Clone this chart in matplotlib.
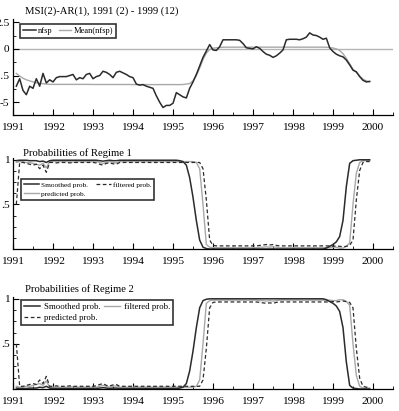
import numpy as np
import matplotlib
matplotlib.use('Agg')
from matplotlib import pyplot as plt
from matplotlib.ticker import MultipleLocator, FixedLocator, FixedFormatter

plt.rcParams['font.family'] = ['Liberation Serif', 'DejaVu Serif']
plt.rcParams['axes.unicode_minus'] = False

# monthly sample 1991(2) - 1999(12)
start_year, start_month, n_obs = 1991, 2, 107
years = [1991, 1992, 1993, 1994, 1995, 1996, 1997, 1998, 1999, 2000]
year_labels = ['1991', '1992', '1993', '1994', '1995', '1996', '1997', '1998', '1999', '2000']

nfsp = [
    -3.5, -2.8, -3.9, -4.3, -3.5, -3.7, -2.8, -3.5, -2.3, -3.2, -2.9,
    -3.1, -2.7, -2.6, -2.6, -2.6, -2.5, -2.4, -2.9, -2.7, -2.8, -2.4, -2.3,
    -2.8, -2.6, -2.5, -2.1, -2.2, -2.4, -2.7, -2.2, -2.1, -2.25, -2.4, -2.6,
    -2.7, -3.3, -3.4, -3.35, -3.5, -3.6, -3.7, -4.4, -5.0, -5.5, -5.3, -5.3,
    -5.1, -4.1, -4.3, -4.5, -4.6, -3.7, -3.1, -2.4, -1.6, -0.8, -0.2, 0.4,
    -0.1, -0.15, 0.2, 0.85, 0.85, 0.85, 0.85, 0.85, 0.8, 0.5, 0.1, 0.05,
    0.0, 0.2, 0.05, -0.25, -0.5, -0.6, -0.8, -0.65, -0.4, -0.1, 0.85, 0.9,
    0.9, 0.9, 0.85, 0.95, 1.1, 1.5, 1.3, 1.25, 1.1, 0.9, 1.0, 0.1,
    -0.25, -0.5, -0.65, -0.75, -1.05, -1.5, -2.0, -2.15, -2.6, -2.95, -3.1, -3.05,
]

mean_nfsp = [
    -2.3, -2.55, -2.75, -2.9, -3.0, -3.1, -3.17, -3.22, -3.27, -3.3, -3.32,
    -3.33, -3.33, -3.33, -3.33, -3.33, -3.33, -3.33, -3.33, -3.33, -3.33, -3.33, -3.33,
    -3.34, -3.34, -3.34, -3.34, -3.34, -3.34, -3.34, -3.34, -3.34, -3.34, -3.34, -3.34,
    -3.35, -3.35, -3.35, -3.35, -3.35, -3.35, -3.35, -3.35, -3.35, -3.35, -3.35, -3.35,
    -3.35, -3.35, -3.35, -3.34, -3.3, -3.25, -3.0, -2.5, -1.8, -1.0, -0.4, -0.05,
    0.06, 0.1, 0.13, 0.15, 0.16, 0.16, 0.16, 0.16, 0.16, 0.16, 0.16, 0.16,
    0.16, 0.16, 0.16, 0.16, 0.16, 0.16, 0.16, 0.16, 0.16, 0.16, 0.16, 0.16,
    0.16, 0.16, 0.16, 0.16, 0.16, 0.16, 0.16, 0.16, 0.16, 0.16, 0.15, 0.12,
    0.08, 0.0, -0.15, -0.45, -0.9, -1.4, -1.9, -2.2, -2.55, -2.85, -3.0, -3.1,
]

# regime 2 probabilities
smoothed2 = [
    0.01, 0.005, 0.005, 0.005, 0.01, 0.01, 0.01, 0.02, 0.015, 0.03, 0.01,
    0.005, 0.005, 0.005, 0.005, 0.005, 0.005, 0.005, 0.005, 0.005, 0.005, 0.005, 0.005,
    0.005, 0.005, 0.01, 0.015, 0.01, 0.005, 0.01, 0.01, 0.005, 0.005, 0.005, 0.005,
    0.005, 0.005, 0.005, 0.005, 0.005, 0.005, 0.005, 0.005, 0.005, 0.005, 0.005, 0.005,
    0.005, 0.005, 0.01, 0.02, 0.06, 0.2, 0.42, 0.68, 0.9, 0.98, 0.995, 1.0,
    1.0, 1.0, 1.0, 1.0, 1.0, 1.0, 1.0, 1.0, 1.0, 1.0, 1.0, 1.0,
    1.0, 1.0, 1.0, 1.0, 1.0, 1.0, 1.0, 1.0, 1.0, 1.0, 1.0, 1.0,
    1.0, 1.0, 1.0, 1.0, 1.0, 1.0, 1.0, 1.0, 1.0, 1.0, 0.99, 0.97,
    0.95, 0.92, 0.86, 0.68, 0.3, 0.04, 0.01, 0.005, 0.0, 0.0, 0.0, 0.0,
]

filtered2 = [
    0.03, 0.02, 0.02, 0.03, 0.03, 0.04, 0.05, 0.06, 0.04, 0.09, 0.02,
    0.02, 0.02, 0.02, 0.02, 0.02, 0.02, 0.025, 0.02, 0.02, 0.02, 0.02, 0.02,
    0.02, 0.02, 0.03, 0.04, 0.03, 0.02, 0.03, 0.035, 0.02, 0.02, 0.02, 0.02,
    0.02, 0.02, 0.02, 0.02, 0.02, 0.02, 0.02, 0.02, 0.02, 0.02, 0.02, 0.02,
    0.02, 0.02, 0.02, 0.02, 0.02, 0.02, 0.02, 0.03, 0.1, 0.5, 0.95, 0.98,
    0.985, 0.985, 0.985, 0.985, 0.985, 0.985, 0.985, 0.985, 0.985, 0.985, 0.985, 0.985,
    0.985, 0.985, 0.98, 0.98, 0.975, 0.98, 0.975, 0.98, 0.985, 0.985, 0.985, 0.985,
    0.985, 0.985, 0.985, 0.985, 0.985, 0.985, 0.985, 0.985, 0.985, 0.985, 0.985, 0.985,
    0.98, 0.98, 0.99, 0.99, 0.97, 0.93, 0.5, 0.15, 0.03, 0.01, 0.01, 0.01,
]

predicted2 = [
    0.5, 0.03, 0.03, 0.04, 0.05, 0.06, 0.05, 0.10, 0.06, 0.14, 0.03,
    0.03, 0.035, 0.03, 0.03, 0.03, 0.035, 0.03, 0.03, 0.03, 0.03, 0.03, 0.03,
    0.03, 0.035, 0.05, 0.06, 0.04, 0.035, 0.045, 0.05, 0.03, 0.03, 0.03, 0.03,
    0.03, 0.03, 0.03, 0.03, 0.03, 0.03, 0.03, 0.03, 0.03, 0.03, 0.03, 0.03,
    0.03, 0.03, 0.03, 0.03, 0.03, 0.03, 0.03, 0.03, 0.03, 0.1, 0.45, 0.9,
    0.96, 0.965, 0.965, 0.965, 0.965, 0.965, 0.965, 0.965, 0.965, 0.965, 0.965, 0.965,
    0.965, 0.965, 0.96, 0.955, 0.95, 0.955, 0.95, 0.96, 0.965, 0.965, 0.965, 0.965,
    0.965, 0.965, 0.965, 0.965, 0.965, 0.965, 0.965, 0.965, 0.965, 0.965, 0.965, 0.965,
    0.97, 0.965, 0.97, 0.975, 0.97, 0.96, 0.9, 0.45, 0.12, 0.03, 0.02, 0.02,
]

t = start_year + (start_month - 1 + np.arange(n_obs)) / 12.0
# regime 1 = 1 - regime 2
smoothed1 = 1 - np.array(smoothed2)
filtered1 = 1 - np.array(filtered2)
predicted1 = 1 - np.array(predicted2)

DARK = '#2b2b2b'
GREY = '#a8a8a8'

fig = plt.figure(figsize=(3.99, 4.11), dpi=100)
W, H = 399.0, 411.0


def make_axes(top_px, bottom_px):
    ax = fig.add_axes([13 / W, 1 - bottom_px / H, 380 / W, (bottom_px - top_px) / H])
    ax.spines['top'].set_visible(False)
    ax.spines['right'].set_visible(False)
    ax.spines['left'].set_linewidth(0.9)
    ax.spines['bottom'].set_linewidth(0.9)
    ax.set_xlim(1991.0, 2000.5)
    ax.xaxis.set_major_locator(FixedLocator(years))
    ax.xaxis.set_major_formatter(FixedFormatter(year_labels))
    ax.xaxis.set_minor_locator(MultipleLocator(0.5))
    ax.tick_params(which='both', direction='in', labelsize=8.2)
    ax.tick_params(which='major', length=4, width=0.8)
    ax.tick_params(which='minor', length=2, width=0.6)
    ax.tick_params(axis='x', pad=6)
    ax.tick_params(axis='y', pad=2.5)
    return ax


def style_legend(leg):
    fr = leg.get_frame()
    fr.set_edgecolor('black')
    fr.set_linewidth(1.2)
    fr.set_boxstyle('square', pad=0)


# panel 1
ax1 = make_axes(19, 115)
ax1.set_ylim(-6.2, 2.8)
ax1.axhline(0, color='#b5b5b5', lw=1.0, zorder=1)
ax1.plot(t, nfsp, color=DARK, lw=1.1, label='nfsp', zorder=3)
ax1.plot(t, mean_nfsp, color=GREY, lw=1.0, label='Mean(nfsp)', zorder=2)
ax1.yaxis.set_major_locator(FixedLocator([-5, -2.5, 0, 2.5]))
ax1.yaxis.set_major_formatter(FixedFormatter(['-5', '-2.5', '0', '2.5']))
ax1.yaxis.set_minor_locator(MultipleLocator(1.25))
leg = ax1.legend(loc='upper left', bbox_to_anchor=(0.018, 0.948), borderaxespad=0,
                 ncol=2, fontsize=6.1, handlelength=1.5, handletextpad=0.3,
                 columnspacing=0.7, borderpad=0.35, frameon=True, fancybox=False)
style_legend(leg)
fig.text(25 / W, 1 - 11 / H, 'MSI(2)-AR(1), 1991 (2) - 1999 (12)', fontsize=7.7,
         ha='left', va='center')


def prob_axes(top_px, bottom_px):
    ax = make_axes(top_px, bottom_px)
    ax.set_ylim(0, 1.02)
    ax.yaxis.set_major_locator(FixedLocator([0.5, 1.0]))
    ax.yaxis.set_major_formatter(FixedFormatter(['.5', '1']))
    ax.yaxis.set_minor_locator(MultipleLocator(0.125))
    return ax


# panel 2
ax2 = prob_axes(158, 249)
l_s, = ax2.plot(t, smoothed1, color=DARK, lw=1.1, zorder=3)
l_p, = ax2.plot(t, filtered1, color=GREY, lw=1.0, zorder=2)
l_f, = ax2.plot(t, predicted1, color=DARK, lw=0.9, ls=(0, (3, 2)), zorder=2)
leg = ax2.legend([l_s, l_p, l_f], ['Smoothed prob.', 'predicted prob.', 'filtered prob.'],
                 loc='upper left', bbox_to_anchor=(0.021, 0.771), borderaxespad=0,
                 ncol=2, fontsize=5.3, handlelength=2.0, handletextpad=0.3,
                 columnspacing=1.1, borderpad=0.4, labelspacing=0.35,
                 frameon=True, fancybox=False)
style_legend(leg)
fig.text(23 / W, 1 - 153 / H, 'Probabilities of Regime 1', fontsize=7.7,
         ha='left', va='center')

# panel 3
ax3 = prob_axes(297, 389)
m_s, = ax3.plot(t, smoothed2, color=DARK, lw=1.1, zorder=3)
m_f, = ax3.plot(t, filtered2, color=GREY, lw=1.0, zorder=2)
m_p, = ax3.plot(t, predicted2, color=DARK, lw=0.9, ls=(0, (3, 2)), zorder=2)
leg = ax3.legend([m_s, m_p, m_f], ['Smoothed prob.', 'predicted prob.', 'filtered prob.'],
                 loc='upper left', bbox_to_anchor=(0.021, 0.969), borderaxespad=0,
                 ncol=2, fontsize=6.3, handlelength=1.8, handletextpad=0.45,
                 columnspacing=0.4, borderpad=0.35, labelspacing=0.35,
                 frameon=True, fancybox=False)
style_legend(leg)
fig.text(25 / W, 1 - 289 / H, 'Probabilities of Regime 2', fontsize=7.7,
         ha='left', va='center')

fig.savefig('out.png', dpi=100)
